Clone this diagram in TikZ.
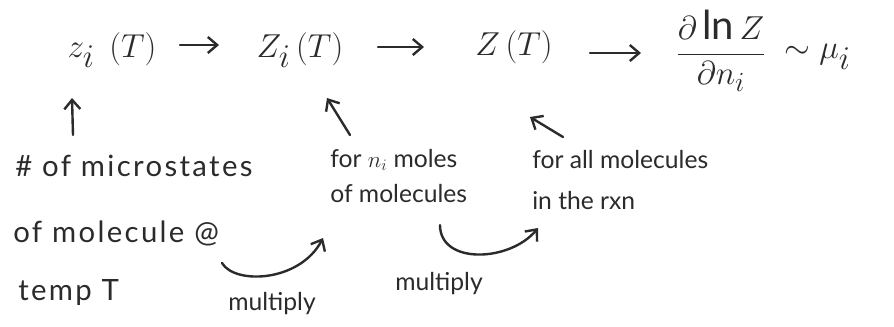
\documentclass[tikz,border=0pt]{standalone}
\usepackage{fontspec}
\setmainfont{Lato}
\usetikzlibrary{arrows.meta}
\definecolor{ink}{HTML}{2B2B2B}
\begin{document}
\begin{tikzpicture}[x=0.75pt,y=-0.75pt,color=ink,text=ink,
  top/.style={font=\fontsize{36}{40}\selectfont, inner sep=0pt},
  lab/.style={font=\fontsize{22}{26}\selectfont\addfontfeature{LetterSpace=8}, inner sep=0pt, anchor=west},
  small/.style={font=\fontsize{18.5}{22}\selectfont, inner sep=0pt, anchor=west},
  arr/.style={line width=1.8pt, line cap=round, -{Straight Barb[length=7pt,width=12pt]}}]
\useasboundingbox (0,0) rectangle (894,326);
% top row
\node[top] (z1) at (112,50) {$z_i\;\,(T)$};
\node[top] (Z1) at (300,50) {$Z_i\,(T)$};
\node[top] (Z2) at (514,47) {$Z\,(T)$};
\node[top, font=\fontsize{30}{34}\selectfont] (fr) at (721,51) {$\displaystyle\frac{\partial \ln Z}{\partial n_i}$};
\node[top, anchor=west] (mu) at (784,57) {$\sim \mu_i$};
\coordinate (a1s) at (180,45); \coordinate (a1e) at (219,45);
\coordinate (a2s) at (378,47); \coordinate (a2e) at (424,47);
\coordinate (a3s) at (590,53); \coordinate (a3e) at (641,53);
\draw[arr] (a1s) -- (a1e);
\draw[arr] (a2s) -- (a2e);
\draw[arr] (a3s) -- (a3e);
% labels
\node[lab] (micro) at (15,166) {\# of microstates};
\node[lab] (molec) at (13,233) {of molecule @};
\node[lab] (temp)  at (18,293) {temp T};
\node[small] (forni) at (330,160) {for $n_i$ moles};
\node[small] (ofmol) at (330,194) {of molecules};
\node[small] (forall) at (532,160) {for all molecules};
\node[small] (inrxn) at (532,201) {in the rxn};
\node[small] (mult1) at (228,304) {multiply};
\node[small] (mult2) at (395,284) {multiply};
% up arrows
\coordinate (u1) at (73,135);
\coordinate (h1) at (72,98);
\coordinate (u2) at (350,135);
\coordinate (h2) at (327,98);
\coordinate (u3) at (563,137);
\coordinate (h3) at (530,117);
\draw[arr] (u1) -- (h1);
\draw[arr] (u2) -- (h2);
\draw[arr] (u3) -- (h3);
% curved multiply arrows
\coordinate (c1s) at (222,263);
\coordinate (c1e) at (323,238);
\coordinate (c2s) at (440,225);
\coordinate (c2e) at (538,228);
\draw[arr] (c1s) .. controls (235,285) and (300,282) .. (c1e);
\draw[arr] (c2s) .. controls (440,265) and (510,262) .. (c2e);
\end{tikzpicture}
\end{document}
